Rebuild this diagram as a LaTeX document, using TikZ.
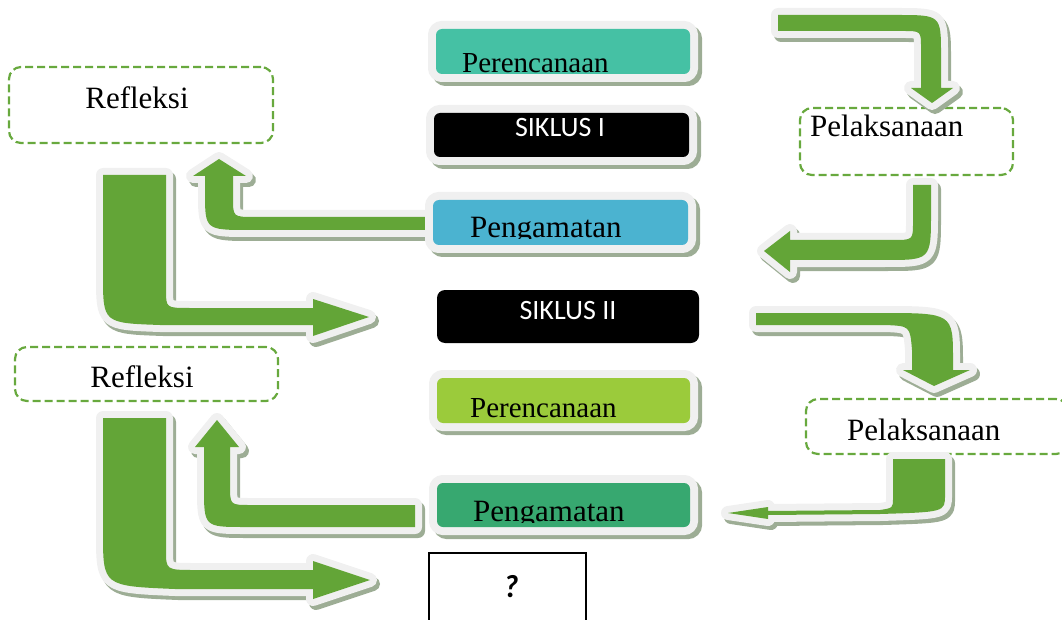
\documentclass[tikz,border=0pt]{standalone}
\usepackage{fontspec}
\setmainfont{Liberation Serif}
\newfontfamily\calibri{Carlito}
\usepackage{xcolor}

\definecolor{arrowgreen}{HTML}{63A537}
\definecolor{edgegrey}{HTML}{F0F0F0}
\definecolor{shadegrey}{HTML}{9DAD95}
\definecolor{dashgreen}{HTML}{68A93E}
\definecolor{plancol}{HTML}{45C1A4}
\definecolor{obscol}{HTML}{4BB3D0}
\definecolor{plantwo}{HTML}{9BCB3B}
\definecolor{obstwo}{HTML}{37A870}

\newcommand{\bigtxt}{\fontsize{31}{36}\selectfont}
\newcommand{\plantxt}{\fontsize{29}{34}\selectfont}
\newcommand{\cyctxt}{\calibri\fontsize{28}{32}\selectfont}

\tikzset{
  bigarrow/.style={fill=arrowgreen,
    preaction={draw=shadegrey, fill=shadegrey, line width=14pt, line join=round, transform canvas={shift={(3pt,-4pt)}}},
    preaction={draw=edgegrey, fill=edgegrey, line width=14pt, line join=round}},
  stagebox/.style={rounded corners=6pt, inner sep=0pt,
    preaction={draw=shadegrey, fill=shadegrey, line width=16pt, transform canvas={shift={(4pt,-4pt)}}},
    preaction={draw=edgegrey, line width=16pt}},
  notebox/.style={draw=dashgreen, dash pattern=on 8pt off 4pt, line width=2.2pt, rounded corners=12pt, fill=white, inner sep=0pt}
}

\begin{document}
\begin{tikzpicture}[x=1pt, y=-1pt]

    \useasboundingbox (0,0) rectangle (1062,620);
    \clip (0,0) rectangle (1062,620);

    \node[notebox, minimum width=264pt, minimum height=76pt] (ref1) at (141,105) {};
    \node[notebox, minimum width=263pt, minimum height=54pt] (ref2) at (146.5,374) {};
    \node[notebox, minimum width=213pt, minimum height=67pt] (pel1) at (906.5,141.5) {};
    \node[notebox, minimum width=262pt, minimum height=55pt] (pel2) at (937,426.5) {};

    \node[anchor=base, font=\bigtxt] (ref1t) at (137,109) {Refleksi};
    \node[anchor=base, font=\bigtxt] (ref2t) at (142,387) {Refleksi};
    \node[anchor=base west, inner sep=0pt, font=\bigtxt] (pel1t) at (810,137) {Pelaksanaan};
    \node[anchor=base west, inner sep=0pt, font=\bigtxt] (pel2t) at (847,440) {Pelaksanaan};

    \path[bigarrow] (778,15) -- (897,15) .. controls (941,15) .. (941,55) -- (941,88) -- (953,88) -- (932,103) -- (911,88) -- (921,88) -- (921,48) .. controls (921,31) .. (903,31) -- (778,31) -- cycle;
    \path[bigarrow] (913,185) -- (931,185) -- (931,212) .. controls (931,260) .. (885,260) -- (790,260) -- (790,272) -- (764,251) -- (790,231) -- (790,240) -- (893,240) .. controls (913,240) .. (913,222) -- cycle;
    \path[bigarrow] (427,217) -- (255,217) .. controls (233,217) .. (233,198) -- (233,176) -- (246,176) -- (219,159) -- (193,176) -- (205,176) -- (205,192) .. controls (205,230) .. (250,230) -- (427,230) -- cycle;
    \path[bigarrow] (103,175) -- (166,175) -- (166,290) .. controls (166,308) .. (190,308) -- (313,308) -- (313,299) -- (369,317) -- (313,336) -- (313,325) -- (160,325) .. controls (103,323) .. (103,275) -- cycle;
    \path[bigarrow] (756,313) -- (880,313) .. controls (953,313) .. (953,360) -- (953,370) -- (970,370) -- (934,386) -- (903,370) -- (912,370) -- (912,350) .. controls (910,326) .. (885,325) -- (756,325) -- cycle;
    \path[bigarrow] (893,459) -- (945,459) -- (945,495) .. controls (945,512) .. (880,514) -- (768,515) -- (768,519) -- (728,513) -- (768,507) -- (768,511) -- (880,510) .. controls (893,508) .. (893,498) -- cycle;
    \path[bigarrow] (415,505) -- (250,505) .. controls (230,505) .. (230,485) -- (230,447) -- (239,447) -- (217,420) -- (195,447) -- (204,447) -- (204,487) .. controls (204,527) .. (245,527) -- (415,527) -- cycle;
    \path[bigarrow] (103,418) -- (166,418) -- (166,550) .. controls (166,570) .. (195,570) -- (313,570) -- (313,561) -- (370,580) -- (313,599) -- (313,589) -- (175,589) .. controls (103,586) .. (103,533) -- cycle;

    \node[stagebox, fill=plancol, minimum width=254pt, minimum height=45pt] (plan1) at (563,51.5) {};
    \node[stagebox, fill=black, minimum width=255pt, minimum height=44pt] (cyc1) at (561.5,135) {};
    \node[stagebox, fill=obscol, minimum width=255pt, minimum height=45pt] (obs1) at (560.5,222.5) {};
    \node[rounded corners=8pt, fill=black, minimum width=262pt, minimum height=53pt] (cyc2) at (568,316.5) {};
    \node[stagebox, fill=plantwo, minimum width=253pt, minimum height=45pt] (plan2) at (563.5,400.5) {};
    \node[stagebox, fill=obstwo, minimum width=253pt, minimum height=44pt] (obs2) at (563.5,505) {};
    \node[draw, line width=1.5pt, fill=white, minimum width=157pt, minimum height=77pt] (next) at (507.5,591.5) {};

    \node[anchor=base west, inner sep=0pt, font=\plantxt] (plan1t) at (462,73) {Perencanaan};
    \node[anchor=base, inner sep=0pt, text=white, font=\cyctxt] (cyc1t) at (560,137) {SIKLUS I};
    \begin{scope}
    \clip (433,200) rectangle (688,239);
    \node[anchor=base west, inner sep=0pt, font=\bigtxt] (obs1t) at (470,238) {Pengamatan};
    \end{scope}
    \node[anchor=base, inner sep=0pt, text=white, font=\cyctxt] (cyc2t) at (568,319) {SIKLUS II};
    \node[anchor=base west, inner sep=0pt, font=\plantxt] (plan2t) at (470,417) {Perencanaan};
    \begin{scope}
    \clip (437,483) rectangle (690,522);
    \node[anchor=base west, inner sep=0pt, font=\bigtxt] (obs2t) at (473,521) {Pengamatan};
    \end{scope}
    \node[anchor=base, inner sep=0pt, font=\calibri\fontsize{32}{36}\selectfont\bfseries\itshape] (nextt) at (511,597) {?};

\end{tikzpicture}
\end{document}
